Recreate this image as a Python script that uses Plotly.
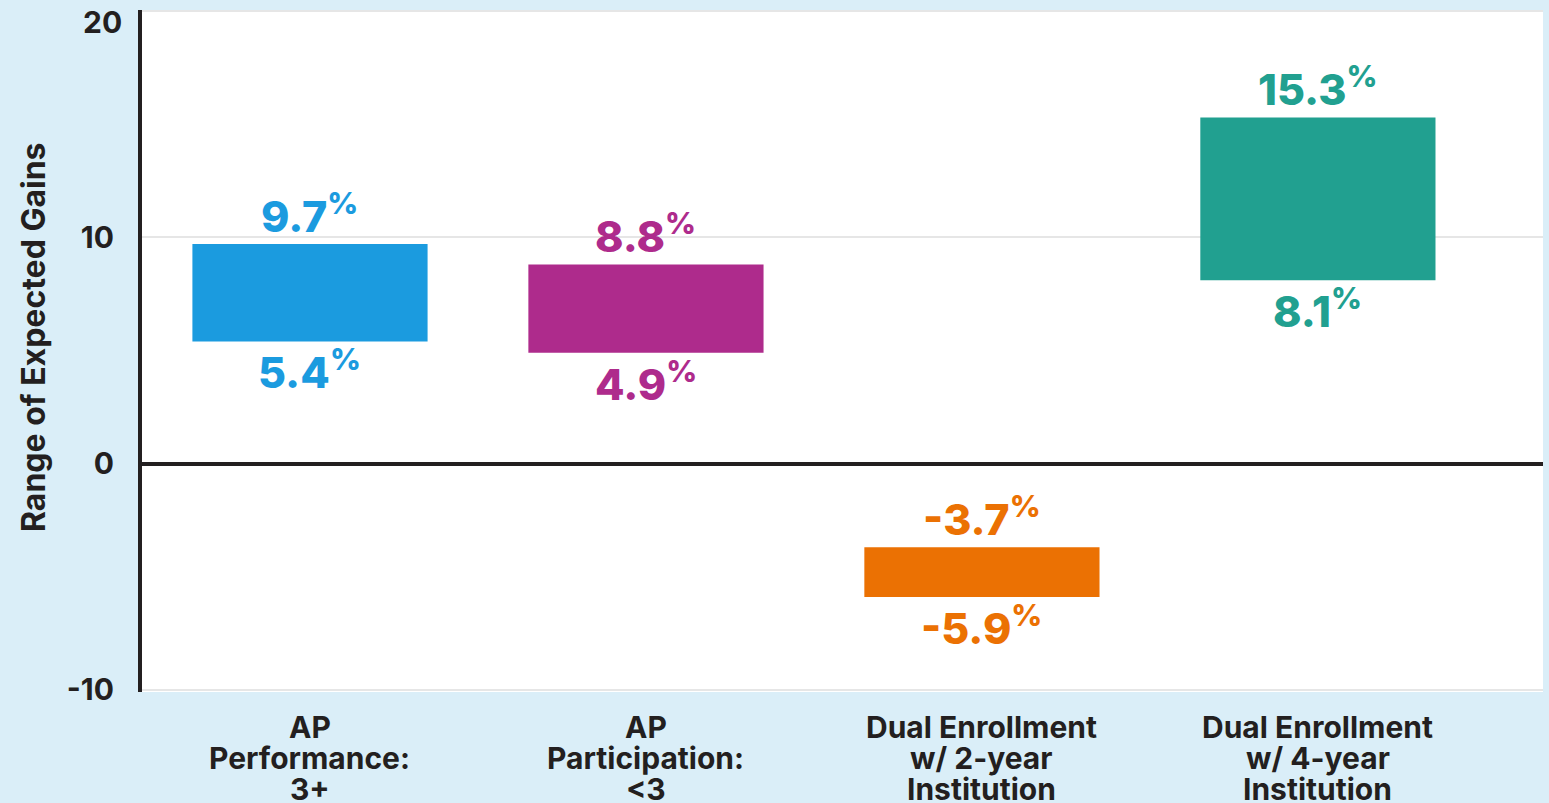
import plotly.graph_objects as go

# ── Data ─────────────────────────────────────────────────────────
categories = [
    'AP<br>Performance:<br>3+',
    'AP<br>Participation:<br><3',
    'Dual Enrollment<br>w/ 2-year<br>Institution',
    'Dual Enrollment<br>w/ 4-year<br>Institution',
]
low_values = [5.4, 4.9, -5.9, 8.1]
high_values = [9.7, 8.8, -3.7, 15.3]
bar_colors = ['#1B9BDF', '#AE2B8C', '#EB7103', '#21A090']
y_ticks = [-10, 0, 10, 20]

PAPER = '#DAEEF8'
INK = '#231F20'
FONT = 'Inter, Roboto, sans-serif'

positions = list(range(len(categories)))

fig = go.Figure(go.Bar(
    x=positions,
    y=[h - l for h, l in zip(high_values, low_values)],
    base=low_values,
    width=0.7,
    marker=dict(color=bar_colors, line=dict(width=0)),
    hoverinfo='skip',
))

# range labels above / below each bar
for xpos, lo, hi, col in zip(positions, low_values, high_values, bar_colors):
    fig.add_annotation(
        x=xpos, y=hi, text=f'{hi:.1f}<sup>%</sup>', showarrow=False,
        yanchor='bottom', yshift=0,
        font=dict(family=FONT, size=43, color=col, weight=800),
    )
    fig.add_annotation(
        x=xpos, y=lo, text=f'{lo:.1f}<sup>%</sup>', showarrow=False,
        yanchor='top', yshift=2,
        font=dict(family=FONT, size=43, color=col, weight=800),
    )

# category labels, one line per annotation for a tight line height
for xpos, cat in zip(positions, categories):
    for i, line in enumerate(cat.split('<br>')):
        fig.add_annotation(
            x=xpos, xref='x', y=0, yref='paper', text=line, showarrow=False,
            yanchor='middle', yshift=-(35 + 31 * i),
            font=dict(family=FONT, size=30, color=INK, weight=700),
        )

# y-axis title (sits a little above the axis centre in the original)
fig.add_annotation(
    x=0, xref='paper', y=0.5, yref='paper', yshift=14, xshift=-109,
    xanchor='center', yanchor='middle',
    text='Range of Expected Gains', textangle=-90, showarrow=False,
    font=dict(family=FONT, size=32, color=INK, weight=700),
)

# top tick label is nudged down inside the figure in the original
fig.add_annotation(
    x=0, xref='paper', y=y_ticks[-1], yref='y', xanchor='right',
    xshift=-18, yshift=-11, text=str(y_ticks[-1]), showarrow=False,
    font=dict(family=FONT, size=30, color=INK, weight=700),
)

fig.update_layout(
    width=1549, height=803,
    paper_bgcolor=PAPER,
    plot_bgcolor='white',
    showlegend=False,
    margin=dict(l=142, r=6, t=10, b=111),
    font=dict(family=FONT, color=INK, size=29, weight=700),
    xaxis=dict(
        range=[-0.5, 3.67], automargin=False,
        showticklabels=False,
        showgrid=False, zeroline=False, showline=False, ticks='',
    ),
    yaxis=dict(
        range=[-10.1, 20.05], automargin=False,
        tickmode='array', tickvals=y_ticks,
        ticktext=[str(v) for v in y_ticks[:-1]] + [''],
        ticklabeloverflow='allow',
        showgrid=True, gridcolor='#E6E6E6', gridwidth=1.5,
        zeroline=True, zerolinecolor=INK, zerolinewidth=4,
        showline=True, linecolor=INK, linewidth=4,
        ticks='', ticklabelstandoff=18,
        tickfont=dict(family=FONT, size=30, color=INK, weight=700),
    ),
)

fig.write_html("out.html",
               config={'displayModeBar': False},
               post_script="document.body.style.margin='0';"
                           "document.body.style.background='%s';" % PAPER)
